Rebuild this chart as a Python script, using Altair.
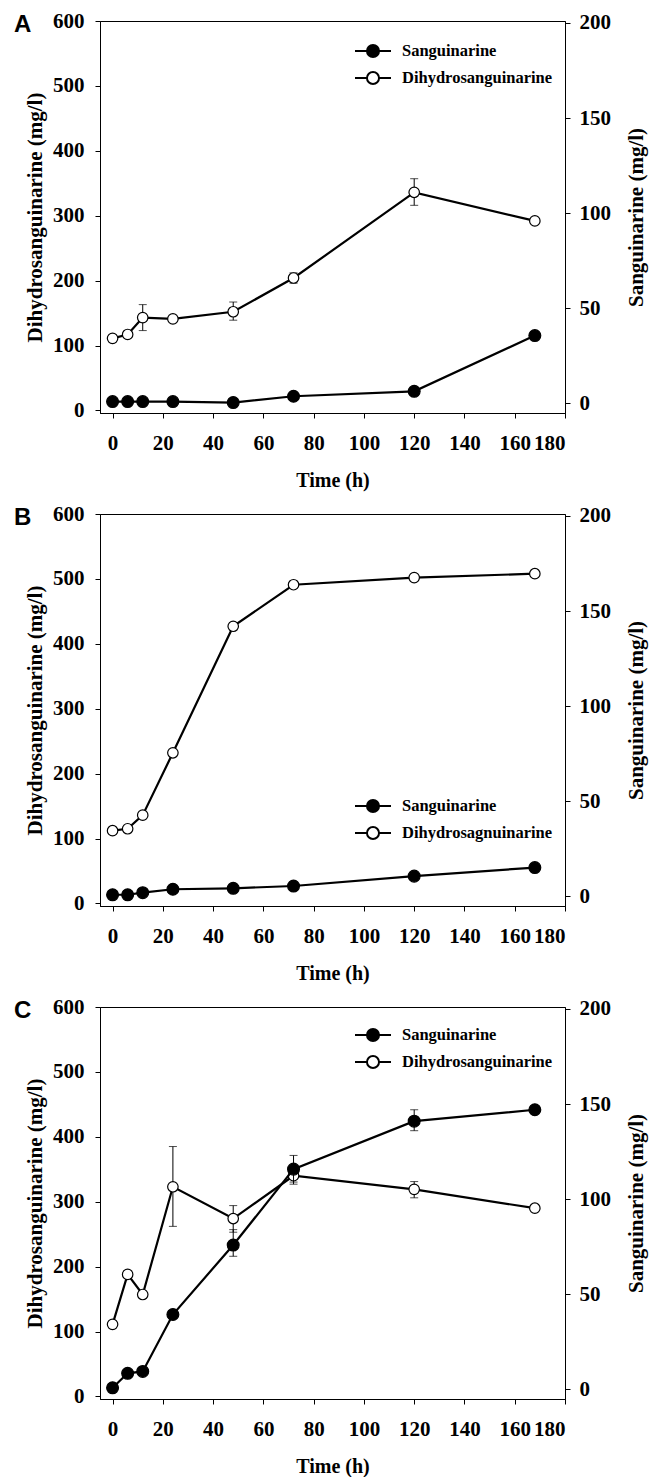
import altair as alt
import pandas as pd

time = [0, 6, 12, 24, 48, 72, 120, 168]

# Panel A
a_dihydro = [111, 117, 143, 141, 152, 204, 336, 292]
a_sang = [1.0, 1.0, 1.0, 1.0, 0.5, 3.8, 6.4, 35.7]
a_dihydro_err_time = [12, 48, 72, 120]
a_dihydro_err_lo = [123, 139, 196, 316]
a_dihydro_err_hi = [163, 167, 212, 357]
a_sang_err_time = [168]
a_sang_err_lo = [34.0]
a_sang_err_hi = [37.5]

# Panel B
b_dihydro = [112, 115, 136, 232, 427, 491, 502, 508]
b_sang = [0.9, 0.9, 2.0, 3.8, 4.3, 5.5, 10.7, 15.2]
b_dihydro_err_time = []
b_dihydro_err_lo = []
b_dihydro_err_hi = []
b_sang_err_time = [168]
b_sang_err_lo = [13.5]
b_sang_err_hi = [17.0]

# Panel C
c_dihydro = [111, 188, 157, 323, 274, 340, 319, 290]
c_sang = [0.9, 8.5, 9.5, 39.4, 75.9, 115.8, 141.0, 147.0]
c_dihydro_err_time = [24, 48, 72, 120]
c_dihydro_err_lo = [262, 253, 327, 306]
c_dihydro_err_hi = [385, 294, 352, 331]
c_sang_err_time = [48, 72, 120]
c_sang_err_lo = [70, 109, 136]
c_sang_err_hi = [84, 123, 147]

x_ticks = [0, 20, 40, 60, 80, 100, 120, 140, 160, 180]
left_ticks = [0, 100, 200, 300, 400, 500, 600]
right_ticks = [0, 50, 100, 150, 200]

SERIF = "Liberation Serif"
SYMBOL_PATH = ("M-2,0H-0.67M0.67,0H2M0.67,0A0.67,0.67 0 1 1 -0.67,0"
               "A0.67,0.67 0 1 1 0.67,0Z")

W, H = 465, 392


def err_layers(t, lo, hi, yscale):
    if not t:
        return []
    d = pd.DataFrame({"time": t, "lo": lo, "hi": hi})
    base = alt.Chart(d)
    x = alt.X("time:Q")
    rule = base.mark_rule(color="black", strokeWidth=1).encode(
        x=x, y=alt.Y("lo:Q", scale=yscale), y2="hi:Q")
    cap_lo = base.mark_tick(color="black", orient="horizontal", size=8,
                            thickness=1).encode(x=x, y=alt.Y("lo:Q", scale=yscale))
    cap_hi = base.mark_tick(color="black", orient="horizontal", size=8,
                            thickness=1).encode(x=x, y=alt.Y("hi:Q", scale=yscale))
    return [rule, cap_lo, cap_hi]


def panel(letter, dihydro, sang, d_err, s_err, sang_label, dihydro_label,
          leg_x, leg_y):
    xscale = alt.Scale(domain=[-5, 180], nice=False, zero=False)
    lscale = alt.Scale(domain=[-4, 600], nice=False, zero=False)
    rscale = alt.Scale(domain=[-5, 201], nice=False, zero=False)
    fill_scale = alt.Scale(domain=[sang_label, dihydro_label],
                           range=["black", "white"])
    legend = alt.Legend(title=None, orient="none", legendX=leg_x,
                        legendY=leg_y, symbolType=SYMBOL_PATH,
                        symbolSize=324, symbolStrokeColor="black",
                        symbolStrokeWidth=2, labelFont=SERIF,
                        labelFontSize=16.5, labelFontWeight="bold",
                        labelColor="black", rowPadding=5, labelOffset=19)

    dd = pd.DataFrame({"time": time, "val": dihydro, "series": dihydro_label})
    ds = pd.DataFrame({"time": time, "val": sang, "series": sang_label})

    x_enc = alt.X("time:Q", scale=xscale,
                  axis=alt.Axis(values=x_ticks, title="Time (h)",
                                titlePadding=17, labelPadding=14))

    left_axis = alt.Axis(values=left_ticks, title="Dihydrosanguinarine (mg/l)",
                         titlePadding=7, labelPadding=11, titleFontSize=21)
    right_axis = alt.Axis(values=right_ticks, title="Sanguinarine (mg/l)",
                          orient="right", titleAngle=-90, titleBaseline="top",
                          titlePadding=15, labelPadding=9, titleFontSize=21)

    left_line = alt.Chart(dd).mark_line(color="black", strokeWidth=2.2).encode(
        x=x_enc, y=alt.Y("val:Q", scale=lscale, axis=left_axis))
    left_pts = alt.Chart(dd).mark_circle(size=110, opacity=1, stroke="black",
                                         strokeWidth=1.2).encode(
        x="time:Q", y=alt.Y("val:Q", scale=lscale),
        fill=alt.Fill("series:N", scale=fill_scale, legend=legend))
    left = alt.layer(*err_layers(*d_err, lscale), left_line, left_pts)

    right_line = alt.Chart(ds).mark_line(color="black", strokeWidth=2.2).encode(
        x="time:Q", y=alt.Y("val:Q", scale=rscale, axis=right_axis))
    right_pts = alt.Chart(ds).mark_circle(size=140, opacity=1, stroke="black",
                                          strokeWidth=1.2).encode(
        x="time:Q", y=alt.Y("val:Q", scale=rscale),
        fill=alt.Fill("series:N", scale=fill_scale, legend=legend))
    right = alt.layer(*err_layers(*s_err, rscale), right_line, right_pts)

    return alt.layer(left, right).resolve_scale(y="independent").properties(
        width=W, height=H,
        title=alt.Title(letter, anchor="start", frame="group", dx=-86,
                        offset=-2, dy=25,
                        font="Liberation Sans", fontSize=24,
                        fontWeight="bold", color="black"))


pa = panel("A", a_dihydro, a_sang,
           (a_dihydro_err_time, a_dihydro_err_lo, a_dihydro_err_hi),
           (a_sang_err_time, a_sang_err_lo, a_sang_err_hi),
           "Sanguinarine", "Dihydrosanguinarine", 263, 20)
pb = panel("B", b_dihydro, b_sang,
           (b_dihydro_err_time, b_dihydro_err_lo, b_dihydro_err_hi),
           (b_sang_err_time, b_sang_err_lo, b_sang_err_hi),
           "Sanguinarine", "Dihydrosagnuinarine", 263, 282)
pc = panel("C", c_dihydro, c_sang,
           (c_dihydro_err_time, c_dihydro_err_lo, c_dihydro_err_hi),
           (c_sang_err_time, c_sang_err_lo, c_sang_err_hi),
           "Sanguinarine", "Dihydrosanguinarine", 263, 18)

chart = alt.vconcat(pa, pb, pc, spacing=11).resolve_scale(
    fill="independent").resolve_legend(fill="independent").properties(
    padding={"left": 5, "top": 1, "right": 5, "bottom": 0}
).configure_view(stroke="black", strokeWidth=1).configure_axis(
    labelFont=SERIF, labelFontSize=21, labelFontWeight="bold",
    labelColor="black", titleFont=SERIF, titleFontSize=20,
    titleFontWeight="bold", titleColor="black", domainColor="black",
    domainWidth=1, tickColor="black", tickSize=5, grid=False
)

chart.save("out.html", embed_options={"renderer": "svg", "actions": False})
